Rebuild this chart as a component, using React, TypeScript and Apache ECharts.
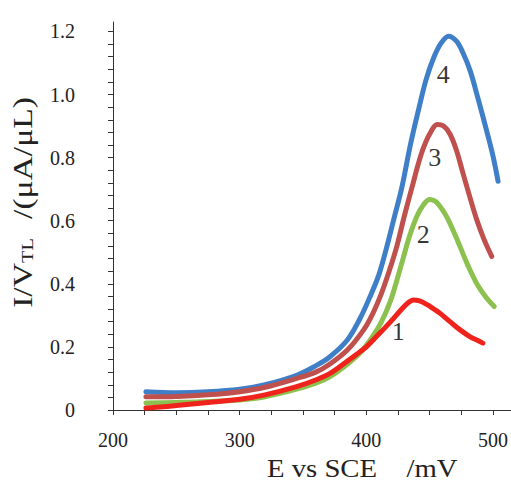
import React, { useEffect, useRef } from 'react';
import * as echarts from 'echarts';

// Curve 1 (red)
const curve1: [number, number][] = [
  [226, 0.006], [240, 0.01], [250, 0.014], [275, 0.024], [300, 0.034], [320, 0.048],
  [345, 0.074], [360, 0.095], [371, 0.115], [385, 0.155], [395, 0.185], [400, 0.2],
  [408, 0.233], [415, 0.262], [421, 0.288], [428, 0.32], [433, 0.34], [437, 0.349],
  [442, 0.346], [448, 0.334], [453, 0.321], [458, 0.307], [466, 0.28], [474, 0.254],
  [482, 0.232], [488, 0.22], [492, 0.212],
];
// Curve 2 (green)
const curve2: [number, number][] = [
  [226, 0.022], [250, 0.024], [275, 0.027], [300, 0.032], [320, 0.042], [345, 0.066],
  [360, 0.085], [371, 0.105], [385, 0.145], [396, 0.185], [405, 0.233], [412, 0.28],
  [419, 0.345], [424, 0.41], [429, 0.48], [434, 0.55], [440, 0.615], [445, 0.65],
  [450, 0.667], [455, 0.66], [460, 0.635], [464, 0.608], [469, 0.565], [474, 0.518],
  [480, 0.46], [487, 0.402], [494, 0.36], [501, 0.328],
];
// Curve 3 (brown-red)
const curve3: [number, number][] = [
  [226, 0.042], [250, 0.043], [275, 0.048], [300, 0.058], [320, 0.072], [345, 0.1],
  [360, 0.12], [371, 0.145], [385, 0.19], [398, 0.255], [405, 0.305], [411, 0.36],
  [418, 0.44], [424, 0.518], [430, 0.615], [437, 0.72], [441, 0.78], [445, 0.83],
  [450, 0.875], [456, 0.905], [461, 0.9], [466, 0.875], [471, 0.825], [476, 0.755],
  [481, 0.685], [487, 0.605], [493, 0.54], [499, 0.487],
];
// Curve 4 (blue)
const curve4: [number, number][] = [
  [226, 0.058], [250, 0.055], [275, 0.058], [300, 0.066], [320, 0.08], [345, 0.11],
  [360, 0.14], [371, 0.168], [385, 0.222], [395, 0.29], [403, 0.36], [410, 0.43],
  [416, 0.515], [422, 0.61], [428, 0.705], [435, 0.845], [442, 0.965], [447, 1.045],
  [453, 1.115], [459, 1.163], [465, 1.185], [471, 1.17], [476, 1.135], [482, 1.075],
  [488, 0.99], [495, 0.885], [500, 0.805], [504, 0.725],
];

// Curve number labels (data coordinates)
const labelNames = ['1', '2', '3', '4'];
const labelX = [425.2, 444.9, 454.1, 460.7];
const labelY = [0.249, 0.556, 0.799, 1.063];

// Axis ticks
const xTickValues = [200, 225, 250, 275, 300, 325, 350, 375, 400, 425, 450, 475, 500];
const xLabelValues = [200, 300, 400, 500];
const yTickValues = [
  0, 0.04, 0.08, 0.12, 0.16, 0.2, 0.24, 0.28, 0.32, 0.36, 0.4, 0.44, 0.48, 0.52, 0.56,
  0.6, 0.64, 0.68, 0.72, 0.76, 0.8, 0.84, 0.88, 0.92, 0.96, 1.0, 1.04, 1.08, 1.12, 1.16, 1.2,
];
const yLabelValues = [0, 0.2, 0.4, 0.6, 0.8, 1.0, 1.2];

const FONT = 'Liberation Serif';

export default function App() {
  const ref = useRef<HTMLDivElement>(null);

  useEffect(() => {
    if (!ref.current) return;
    const chart = echarts.init(ref.current, undefined, { renderer: 'svg' });
    const lineSeries = (data: [number, number][], color: string) => ({
      type: 'line',
      data,
      showSymbol: false,
      symbol: 'none',
      smooth: 0.35,
      lineStyle: { color, width: 5, cap: 'round', join: 'round' },
      itemStyle: { color },
      silent: true,
    });
    chart.setOption({
      animation: false,
      backgroundColor: '#ffffff',
      grid: { left: 113, right: 0, top: 22, bottom: 72, containLabel: false },
      xAxis: {
        type: 'value',
        min: 200,
        max: 514,
        splitLine: { show: false },
        axisLine: { show: true, onZero: false, lineStyle: { color: '#333', width: 1 } },
        axisTick: { show: true, inside: false, length: 5, customValues: xTickValues, lineStyle: { color: '#333' } },
        axisLabel: {
          customValues: xLabelValues,
          margin: 20,
          fontFamily: FONT,
          fontSize: 20,
          color: '#222',
        },
      },
      yAxis: {
        type: 'value',
        min: 0,
        max: 1.23,
        splitLine: { show: false },
        axisLine: { show: true, onZero: false, lineStyle: { color: '#333', width: 1 } },
        axisTick: { show: true, inside: false, length: 5, customValues: yTickValues, lineStyle: { color: '#333' } },
        axisLabel: {
          customValues: yLabelValues,
          margin: 38,
          fontFamily: FONT,
          fontSize: 20,
          color: '#222',
          formatter: (v: number) => (v === 0 ? '0' : v.toFixed(1)),
        },
      },
      series: [
        lineSeries(curve4, '#3f7fc8'),
        lineSeries(curve3, '#c0504d'),
        lineSeries(curve2, '#8cc04f'),
        lineSeries(curve1, '#f0231c'),
        {
          type: 'scatter',
          symbolSize: 1,
          itemStyle: { color: 'rgba(0,0,0,0)' },
          silent: true,
          z: 5,
          data: labelNames.map((n, i) => ({ name: n, value: [labelX[i], labelY[i]] })),
          label: {
            show: true,
            position: 'inside',
            formatter: '{b}',
            fontFamily: FONT,
            fontSize: 26,
            color: '#000',
          },
        },
      ],
      graphic: [
        {
          type: 'text',
          x: 322,
          y: 469,
          scaleX: 1.15,
          style: {
            text: 'E vs SCE',
            fontFamily: FONT,
            fontSize: 25,
            fill: '#222',
            align: 'center',
            verticalAlign: 'middle',
          },
        },
        {
          type: 'text',
          x: 432,
          y: 469,
          scaleX: 1.15,
          style: {
            text: '/mV',
            fontFamily: FONT,
            fontSize: 25,
            fill: '#222',
            align: 'center',
            verticalAlign: 'middle',
          },
        },
        {
          type: 'text',
          x: 22,
          y: 273,
          rotation: Math.PI / 2,
          scaleX: 1.2,
          style: {
            text: '{a|I/V}{b|TL}',
            align: 'center',
            verticalAlign: 'middle',
            fill: '#222',
            rich: {
              a: { fontFamily: FONT, fontSize: 28, lineHeight: 28, fill: '#222' },
              b: { fontFamily: FONT, fontSize: 17, lineHeight: 18, verticalAlign: 'bottom', fill: '#222' },
            },
          },
        },
        {
          type: 'text',
          x: 22,
          y: 158,
          rotation: Math.PI / 2,
          scaleX: 1.2,
          style: {
            text: '/(μA/μL)',
            fontFamily: FONT,
            fontSize: 28,
            fill: '#222',
            align: 'center',
            verticalAlign: 'middle',
          },
        },
      ],
    });
    return () => chart.dispose();
  }, []);

  return (
    <div
      ref={ref}
      style={{ position: 'fixed', left: 0, top: 0, width: 511, height: 482, background: '#fff' }}
    />
  );
}
